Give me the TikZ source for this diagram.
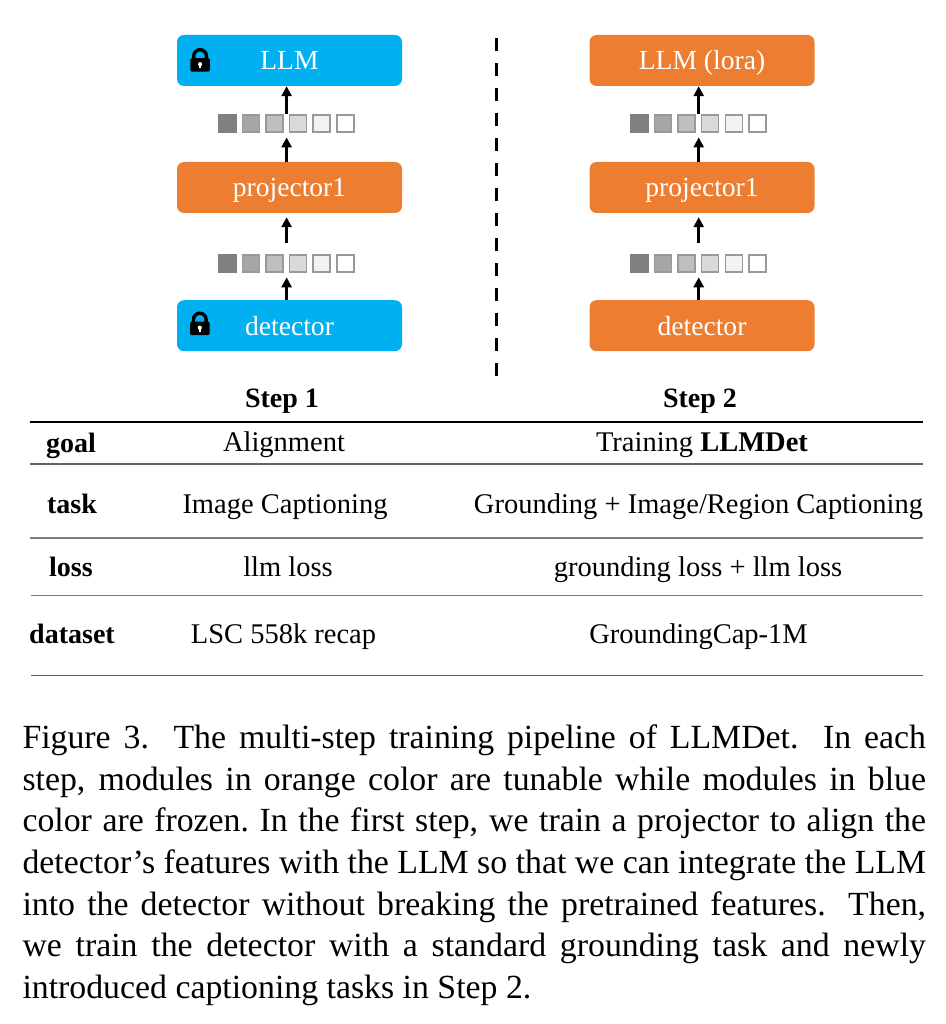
\documentclass[tikz,border=0pt]{standalone}
\usepackage{fontspec}
\setmainfont{Liberation Serif}
\usetikzlibrary{arrows.meta,calc}
\definecolor{fzblue}{RGB}{0,176,240}
\definecolor{tnorange}{RGB}{237,125,49}
\definecolor{rulegray}{RGB}{100,100,100}
\definecolor{rulelight}{RGB}{125,125,125}
\tikzset{
  module/.style={rounded corners=7pt, minimum width=225pt, minimum height=51pt, inner sep=0pt,
    text=white, text height=19pt, text depth=0pt, font=\fontsize{27.6}{30}\selectfont},
  frozen/.style={module, fill=fzblue},
  tunable/.style={module, fill=tnorange},
  tokrow/.style={minimum width=136.7pt, minimum height=19pt, inner sep=0pt},
  tok/.style={minimum size=17pt, inner sep=0pt, line width=1.5pt, draw=black!40},
  flow/.style={line width=2.6pt, -{Triangle[length=10pt,width=10pt]}},
  hdr/.style={font=\fontsize{28}{30}\selectfont\bfseries, anchor=base, inner sep=0pt},
  cell/.style={font=\fontsize{28.5}{30}\selectfont, anchor=base, inner sep=0pt},
  capline/.style={font=\fontsize{33.8}{40}\selectfont, anchor=base west, inner sep=0pt},
  toprule/.style={line width=1.6pt, black},
  midrule/.style={line width=1.6pt, rulegray},
  lightrule/.style={line width=1.6pt, rulelight},
  lockicon/.pic={
    \fill[black, rounded corners=1.2pt] (-9.7,-1.6) rectangle (9.7,11.8);
    \draw[black, line width=3.4pt] (-6.3,-0.5) -- (-6.3,-3.8) arc[start angle=180, end angle=360, radius=6.3] -- (6.3,-0.5);
    \fill[white] (0,4.4) circle (2.1);
    \fill[white] (-0.8,4.6) rectangle (0.8,8.6);
  }
}
\begin{document}
\begin{tikzpicture}[x=1pt,y=-1pt]
\useasboundingbox (0,0) rectangle (945,1024);

% ---- Step 1 column
\node[frozen]  (llmL)  at (289.5,60.5)  {LLM};
\node[tunable] (projL) at (289.5,187.5) {projector1};
\node[frozen]  (detL)  at (289.5,325.7) {detector};
\pic at ($(llmL.west)+(23.3,-0.7)$) {lockicon};
\pic at ($(detL.west)+(23,-2.4)$) {lockicon};
\node[tokrow] (rowL2) at (286.6,123.7) {};
\node[tokrow] (rowL1) at (286.6,263.6) {};

% ---- Step 2 column
\node[tunable] (llmR)  at (702,60.5)  {LLM (lora)};
\node[tunable] (projR) at (702,187.5) {projector1};
\node[tunable] (detR)  at (702,325.7) {detector};
\node[tokrow] (rowR2) at (698.7,123.7) {};
\node[tokrow] (rowR1) at (698.7,263.6) {};

% ---- token squares
\foreach \r in {rowL1,rowL2,rowR1,rowR2}{
  \foreach \i/\f in {0/50,1/35,2/25,3/15,4/5,5/0}{
    \node[tok, fill=black!\f] (\r-\i) at ($(\r.west)+(9.25+23.6*\i,0)$) {};
  }
  \node[tok, fill=black!50, draw=black!50] (\r-0) at ($(\r.west)+(9.25,0)$) {};
}

% ---- arrows
\foreach \s in {L,R}{
  \draw[flow] (row\s1.south |- det\s.north) -- ([yshift=-4pt]row\s1.south);
  \draw[flow] ([yshift=11pt]row\s1.north) -- ([yshift=-4pt]row\s1.north |- proj\s.south);
  \draw[flow] (row\s2.south |- proj\s.north) -- ([yshift=-4pt]row\s2.south);
  \draw[flow] (row\s2.north) -- (row\s2.north |- llm\s.south);
}

% ---- dashed separator
\draw[line width=3pt, dash pattern=on 12.7pt off 12.3pt] (496.7,38.3) -- (496.7,375.5);

% ---- table
\node[hdr] (s1) at (282,407.7) {Step 1};
\node[hdr] (s2) at (700,407.7) {Step 2};
\draw[toprule] (29.5,421.7) -- (922.5,421.7);
\draw[midrule] (30,464) -- (922.5,464);
\draw[lightrule] (30,537.7) -- (922.5,537.7);
\draw[lightrule] (30.5,595.5) -- (923,595.5);
\draw[midrule] (31,675.5) -- (923,675.5);

\node[hdr]  (lgoal) at (71,452) {goal};
\node[cell] (a1) at (284,451.5) {Alignment};
\node[cell] (a2) at (702,451.5) {Training \textbf{LLMDet}};

\node[hdr]  (ltask) at (72,513.7) {task};
\node[cell] (b1) at (285,513.7) {Image Captioning};
\node[cell] (b2) at (698.5,513.7) {Grounding + Image/Region Captioning};

\node[hdr]  (lloss) at (71,576.7) {loss};
\node[cell] (c1) at (288,576.7) {llm loss};
\node[cell] (c2) at (698,576.7) {grounding loss + llm loss};

\node[hdr]  (ldata) at (72,643.5) {dataset};
\node[cell] (d1) at (283.5,643.5) {LSC 558k recap};
\node[cell] (d2) at (698.5,643.5) {GroundingCap-1M};

% ---- caption
\node[capline] (cap1) at (22.3,748.3) {\makebox[903.5pt][s]{Figure 3.  The multi-step training pipeline of LLMDet.  In each}};
\node[capline] (cap2) at (22.3,790.0) {\makebox[903.5pt][s]{step, modules in orange color are tunable while modules in blue}};
\node[capline] (cap3) at (22.3,831.7) {\makebox[903.5pt][s]{color are frozen.\ In the first step, we train a projector to align the}};
\node[capline] (cap4) at (22.3,873.3) {\makebox[903.5pt][s]{detector’s features with the LLM so that we can integrate the LLM}};
\node[capline] (cap5) at (22.3,915.0) {\makebox[903.5pt][s]{into the detector without breaking the pretrained features.  Then,}};
\node[capline] (cap6) at (22.3,956.7) {\makebox[903.5pt][s]{we train the detector with a standard grounding task and newly}};
\node[capline] (cap7) at (22.3,998.3) {introduced captioning tasks in Step 2.};
\end{tikzpicture}
\end{document}
